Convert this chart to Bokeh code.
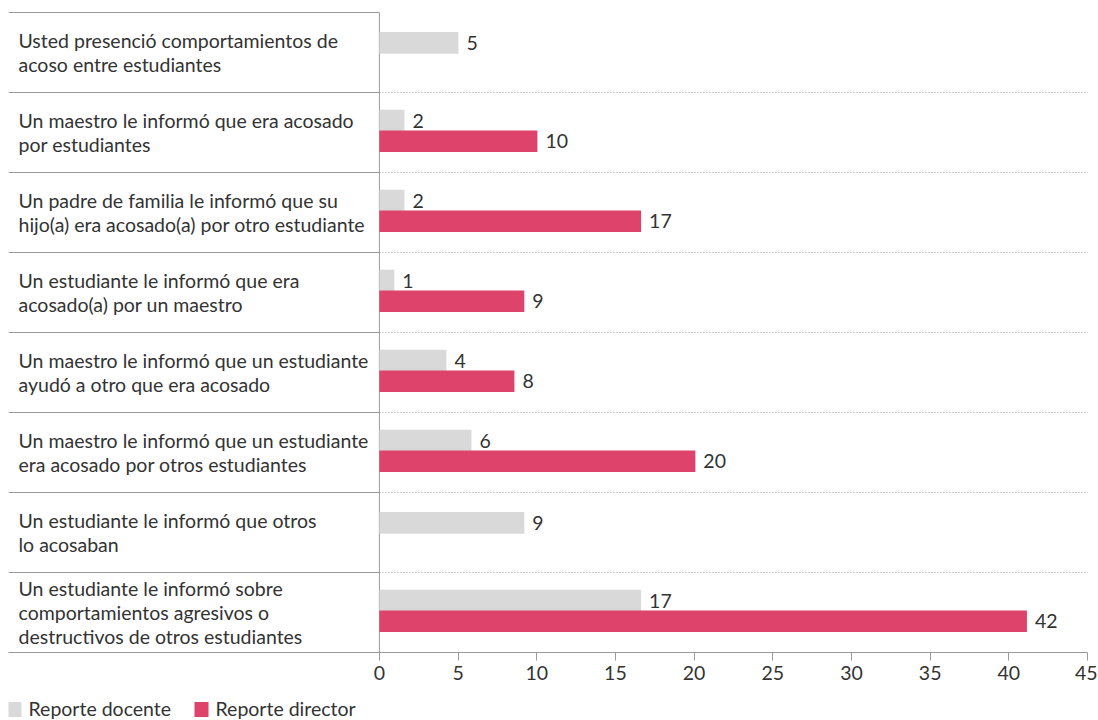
from bokeh.plotting import figure
from bokeh.layouts import column
from bokeh.models import Range1d, FixedTicker, ColumnDataSource
from bokeh.core.properties import value
from bokeh.embed import file_html
from bokeh.resources import INLINE

categories = [
    "Usted presenció comportamientos de\nacoso entre estudiantes",
    "Un maestro le informó que era acosado\npor estudiantes",
    "Un padre de familia le informó que su\nhijo(a) era acosado(a) por otro estudiante",
    "Un estudiante le informó que era\nacosado(a) por un maestro",
    "Un maestro le informó que un estudiante\nayudó a otro que era acosado",
    "Un maestro le informó que un estudiante\nera acosado por otros estudiantes",
    "Un estudiante le informó que otros\nlo acosaban",
    "Un estudiante le informó sobre\ncomportamientos agresivos o\ndestructivos de otros estudiantes",
]
docente = [5.02, 1.59, 1.59, 0.95, 4.26, 5.85, 9.21, 16.63]
director = [None, 10.04, 16.63, 9.21, 8.58, 20.08, None, 41.15]
docente_labels = ["5", "2", "2", "1", "4", "6", "9", "17"]
director_labels = ["", "10", "17", "9", "8", "20", "", "42"]
x_ticks = [0, 5, 10, 15, 20, 25, 30, 35, 40, 45]
series_names = ["Reporte docente", "Reporte director"]

GRAY = "#d9d9d9"
PINK = "#dd436b"
LINE = "#9a9a9a"
TXT = "#333333"
FONT = "Lato"
FS = "19.5px"

n = len(categories)
x_start = -23.57
p = figure(
    frame_width=1079, frame_height=641,
    x_range=Range1d(x_start, 45), y_range=Range1d(0, n + 0.0125),
    output_backend="svg", toolbar_location=None,
    min_border_left=8, min_border_right=10, min_border_top=11, min_border_bottom=45,
)
p.outline_line_color = None
p.grid.visible = False
p.yaxis.visible = False

xa = p.xaxis[0]
xa.ticker = FixedTicker(ticks=x_ticks)
xa.axis_line_color = LINE
xa.major_tick_line_color = LINE
xa.major_tick_out = 8
xa.major_tick_in = 0
xa.minor_tick_line_color = None
xa.major_label_text_font = FONT
xa.major_label_text_font_size = FS
xa.major_label_text_color = TXT
xa.major_label_standoff = 5

# row separators
seps = list(range(1, n))
p.segment(x0=[0] * len(seps), x1=[45.05] * len(seps), y0=seps, y1=seps,
          line_color=LINE, line_width=1, line_dash="1 2")
left_seps = list(range(1, n + 1))
p.segment(x0=[x_start] * len(left_seps), x1=[0] * len(left_seps), y0=left_seps, y1=left_seps,
          line_color=LINE, line_width=1)
p.segment(x0=[0], x1=[0], y0=[0], y1=[n], line_color=LINE, line_width=1)

# bars
centers = [n - i - 0.5 for i in range(n)]
d_y, d_x, d_lab = [], [], []
r_y, r_x, r_lab = [], [], []
for i in range(n):
    paired = director[i] is not None
    d_y.append(centers[i] + (0.15 if paired else 0.12))
    d_x.append(docente[i])
    d_lab.append(docente_labels[i])
    if paired:
        r_y.append(centers[i] - 0.11)
        r_x.append(director[i])
        r_lab.append(director_labels[i])

src_d = ColumnDataSource(dict(y=d_y, x=d_x, lab=d_lab))
src_r = ColumnDataSource(dict(y=r_y, x=r_x, lab=r_lab))
p.hbar(y="y", right="x", left=0, height=0.27, source=src_d, fill_color=GRAY, line_color=None)
p.hbar(y="y", right="x", left=0, height=0.27, source=src_r, fill_color=PINK, line_color=None)
for s in (src_d, src_r):
    p.text(x="x", y="y", text="lab", source=s, x_offset=8, text_baseline="middle", text_align="left",
           text_font=value(FONT), text_font_size=FS, text_color=TXT)

# category labels
p.text(x=[x_start] * n, y=centers, text=categories, x_offset=10, text_baseline="middle",
       text_align="left", text_font=value(FONT), text_font_size=FS, text_color=TXT, text_line_height=1.06)

# legend strip (drawn as its own small figure below the chart)
LW, LH = 1097, 23
lg = figure(frame_width=LW, frame_height=LH, x_range=Range1d(9, LW + 9), y_range=Range1d(0, LH),
            output_backend="svg", toolbar_location=None, min_border=0)
lg.outline_line_color = None
lg.grid.visible = False
lg.axis.visible = False
sq_x = [15, 202]
lg.rect(x=sq_x, y=[11, 11], width=14, height=15, fill_color=[GRAY, PINK], line_color=None)
lg.text(x=[s + 14 for s in sq_x], y=[12, 12], text=series_names, text_baseline="middle", text_align="left",
        text_font=value(FONT), text_font_size=FS, text_color=TXT)

layout = column(p, lg, spacing=0)
open("out.html", "w").write(file_html(layout, INLINE))
